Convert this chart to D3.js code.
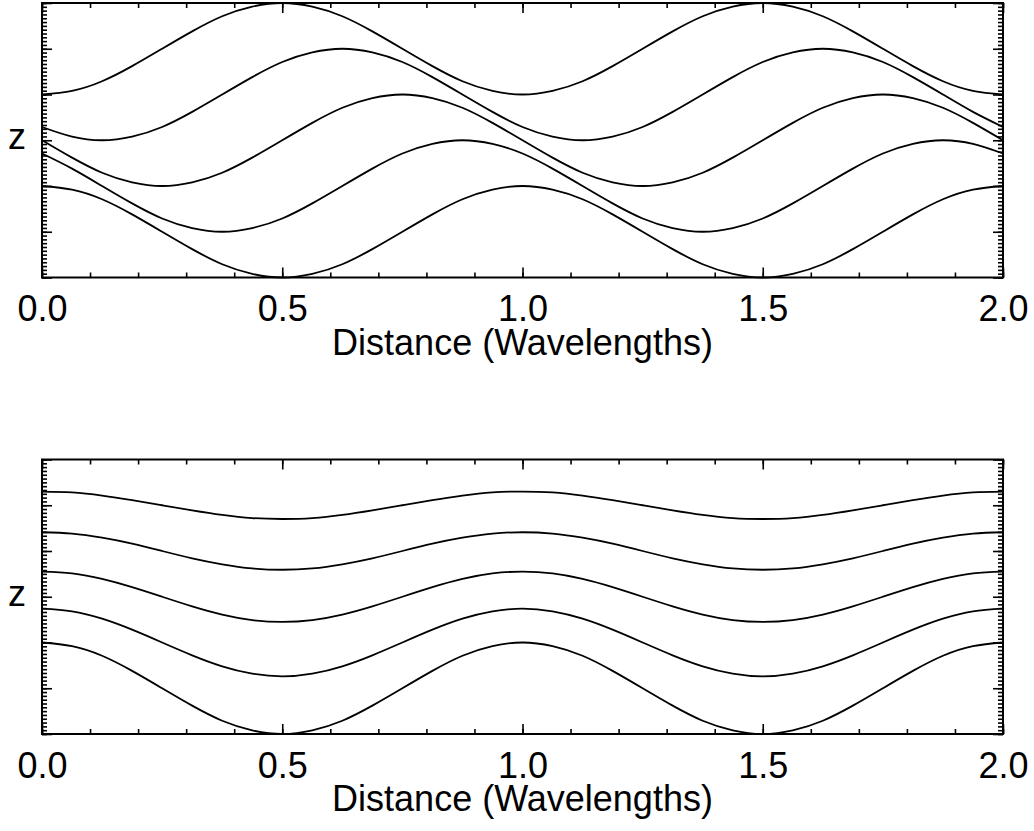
<!DOCTYPE html>
<html>
<head>
<meta charset="utf-8">
<script src="https://cdn.jsdelivr.net/npm/d3@7"></script>
<style>
  body { margin: 0; background: #fff; }
  svg { display: block; }
</style>
</head>
<body>
<svg width="1034" height="831"></svg>
<script>

// x positions (wavelengths), sampled every 1/16
const distance = [0, 0.0625, 0.125, 0.1875, 0.25, 0.3125, 0.375, 0.4375, 0.5, 0.5625, 0.625, 0.6875, 0.75, 0.8125, 0.875, 0.9375,
  1, 1.0625, 1.125, 1.1875, 1.25, 1.3125, 1.375, 1.4375, 1.5, 1.5625, 1.625, 1.6875, 1.75, 1.8125, 1.875, 1.9375, 2];

// top panel: phase tilts with height
const topLayer1 = [4, 4.08, 4.29, 4.62, 5, 5.38, 5.71, 5.92, 6, 5.92, 5.71, 5.38, 5, 4.62, 4.29, 4.08,
  4, 4.08, 4.29, 4.62, 5, 5.38, 5.71, 5.92, 6, 5.92, 5.71, 5.38, 5, 4.62, 4.29, 4.08, 4];
const topLayer2 = [3.29, 3.08, 3, 3.08, 3.29, 3.62, 4, 4.38, 4.71, 4.92, 5, 4.92, 4.71, 4.38, 4, 3.62,
  3.29, 3.08, 3, 3.08, 3.29, 3.62, 4, 4.38, 4.71, 4.92, 5, 4.92, 4.71, 4.38, 4, 3.62, 3.29];
const topLayer3 = [3, 2.62, 2.29, 2.08, 2, 2.08, 2.29, 2.62, 3, 3.38, 3.71, 3.92, 4, 3.92, 3.71, 3.38,
  3, 2.62, 2.29, 2.08, 2, 2.08, 2.29, 2.62, 3, 3.38, 3.71, 3.92, 4, 3.92, 3.71, 3.38, 3];
const topLayer4 = [2.71, 2.38, 2, 1.62, 1.29, 1.08, 1, 1.08, 1.29, 1.62, 2, 2.38, 2.71, 2.92, 3, 2.92,
  2.71, 2.38, 2, 1.62, 1.29, 1.08, 1, 1.08, 1.29, 1.62, 2, 2.38, 2.71, 2.92, 3, 2.92, 2.71];
const topLayer5 = [2, 1.92, 1.71, 1.38, 1, 0.62, 0.29, 0.08, 0, 0.08, 0.29, 0.62, 1, 1.38, 1.71, 1.92,
  2, 1.92, 1.71, 1.38, 1, 0.62, 0.29, 0.08, 0, 0.08, 0.29, 0.62, 1, 1.38, 1.71, 1.92, 2];

// bottom panel: amplitude shrinks with height
const bottomLayer1 = [5.30, 5.28, 5.21, 5.11, 5, 4.89, 4.79, 4.72, 4.70, 4.72, 4.79, 4.89, 5, 5.11, 5.21, 5.28,
  5.30, 5.28, 5.21, 5.11, 5, 4.89, 4.79, 4.72, 4.70, 4.72, 4.79, 4.89, 5, 5.11, 5.21, 5.28, 5.30];
const bottomLayer2 = [4.41, 4.38, 4.29, 4.16, 4, 3.84, 3.71, 3.62, 3.59, 3.62, 3.71, 3.84, 4, 4.16, 4.29, 4.38,
  4.41, 4.38, 4.29, 4.16, 4, 3.84, 3.71, 3.62, 3.59, 3.62, 3.71, 3.84, 4, 4.16, 4.29, 4.38, 4.41];
const bottomLayer3 = [3.55, 3.51, 3.39, 3.21, 3, 2.79, 2.61, 2.49, 2.45, 2.49, 2.61, 2.79, 3, 3.21, 3.39, 3.51,
  3.55, 3.51, 3.39, 3.21, 3, 2.79, 2.61, 2.49, 2.45, 2.49, 2.61, 2.79, 3, 3.21, 3.39, 3.51, 3.55];
const bottomLayer4 = [2.74, 2.68, 2.52, 2.28, 2, 1.72, 1.48, 1.32, 1.26, 1.32, 1.48, 1.72, 2, 2.28, 2.52, 2.68,
  2.74, 2.68, 2.52, 2.28, 2, 1.72, 1.48, 1.32, 1.26, 1.32, 1.48, 1.72, 2, 2.28, 2.52, 2.68, 2.74];
const bottomLayer5 = [2, 1.92, 1.71, 1.38, 1, 0.62, 0.29, 0.08, 0, 0.08, 0.29, 0.62, 1, 1.38, 1.71, 1.92,
  2, 1.92, 1.71, 1.38, 1, 0.62, 0.29, 0.08, 0, 0.08, 0.29, 0.62, 1, 1.38, 1.71, 1.92, 2];

const xTicks = [0, 0.5, 1, 1.5, 2];
const xTickLabels = ["0.0", "0.5", "1.0", "1.5", "2.0"];
const yMajorTicks = [0, 1, 2, 3, 4, 5, 6];
const xTitle = "Distance (Wavelengths)";
const yTitle = "z";

const svg = d3.select("svg");
const fontFamily = "'Liberation Sans', Arial, Helvetica, sans-serif";
const fontSize = 36;

const left = 42, right = 1003, plotH = 274.5;

const x = d3.scaleLinear().domain([0, 2]).range([left, right]);

function drawPanel(top, layers) {
  const bottom = top + plotH;
  const y = d3.scaleLinear().domain([0, 6]).range([bottom, top]);
  const g = svg.append("g");

  const line = d3.line()
    .x((d, i) => x(distance[i]))
    .y(d => y(d))
    .curve(d3.curveNatural);

  g.selectAll("path.curve")
    .data(layers)
    .enter()
    .append("path")
    .attr("class", "curve")
    .attr("fill", "none")
    .attr("stroke", "#000")
    .attr("stroke-width", 1.8)
    .attr("d", line);

  const minorX = d3.range(0, 2.0001, 0.1);
  const minorY = d3.range(0, 6.0001, 1 / 12);

  function axis(a, transform, values, size, fmt) {
    const ax = g.append("g")
      .attr("transform", transform)
      .call(a.tickValues(values).tickSizeInner(-size).tickSizeOuter(0)
        .tickPadding(18).tickFormat(fmt || (() => "")));
    ax.select(".domain").remove();
    ax.selectAll("line").attr("stroke-width", 1.6);
    ax.attr("font-family", fontFamily).attr("font-size", fontSize);
    return ax;
  }

  axis(d3.axisBottom(x), `translate(0,${bottom})`, minorX, 5);
  axis(d3.axisBottom(x), `translate(0,${bottom})`, xTicks, 10, (d, i) => xTickLabels[i]);
  axis(d3.axisTop(x), `translate(0,${top})`, minorX, 5);
  axis(d3.axisTop(x), `translate(0,${top})`, xTicks, 10);
  axis(d3.axisLeft(y), `translate(${left},0)`, minorY, 5);
  axis(d3.axisLeft(y), `translate(${left},0)`, yMajorTicks, 10);
  axis(d3.axisRight(y), `translate(${right},0)`, minorY, 5);
  axis(d3.axisRight(y), `translate(${right},0)`, yMajorTicks, 10);

  g.selectAll(".tick text").attr("fill", "#000");

  g.append("rect")
    .attr("x", left)
    .attr("y", top)
    .attr("width", right - left)
    .attr("height", plotH)
    .attr("fill", "none")
    .attr("stroke", "#000")
    .attr("stroke-width", 2);

  g.append("text")
    .attr("x", (left + right) / 2)
    .attr("y", bottom + 77)
    .attr("text-anchor", "middle")
    .attr("font-family", fontFamily)
    .attr("font-size", fontSize)
    .text(xTitle);

  g.append("text")
    .attr("x", 17)
    .attr("y", (top + bottom) / 2 + 9)
    .attr("text-anchor", "middle")
    .attr("font-family", fontFamily)
    .attr("font-size", fontSize)
    .text(yTitle);
}

drawPanel(3, [topLayer1, topLayer2, topLayer3, topLayer4, topLayer5]);
drawPanel(459.5, [bottomLayer1, bottomLayer2, bottomLayer3, bottomLayer4, bottomLayer5]);

</script>
</body>
</html>
